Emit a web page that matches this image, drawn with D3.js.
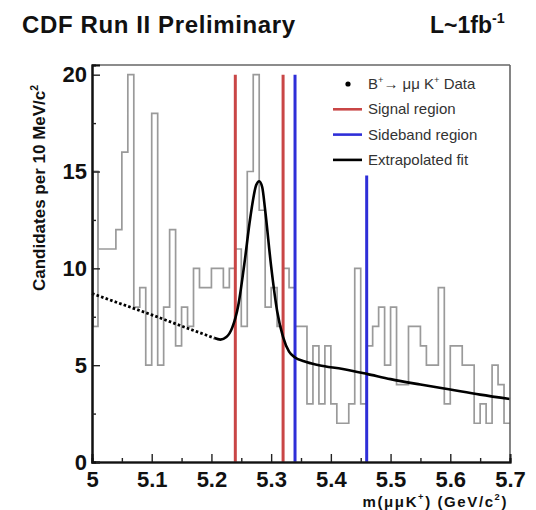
<!DOCTYPE html>
<html><head><meta charset="utf-8">
<script src="https://cdn.jsdelivr.net/npm/d3@7"></script>
<style>
body{margin:0;background:#fff}
svg{display:block}
text{font-family:"Liberation Sans",Arial,Helvetica,sans-serif}
</style>
</head><body>
<svg id="c" width="536" height="510"></svg>
<script>
// ---------------- data ----------------
const binLow = 5.0;
const binWidth = 0.01;
// candidates per 10 MeV bin, 5.00 .. 5.70 GeV
const counts = [15,11,11,11,12,16,20,8,9,5,
                18,5,8,12,6,8,7,10,9,9,
                10,10,9,10,11,7,15,20,13,8,
                9,7,10,9,7,7,3,6,3,6,
                3,2,2,3,10,3,6,7,8,5,
                8,4,4,7,7,6,5,5,9,3,
                6,6,5,5,2,3,2,5,4,2];
const firstBinFloor = 7;

const fitMass  = [5.000,5.050,5.100,5.150,5.205,5.215,5.225,5.235,5.245,5.255,5.265,5.275,5.280,5.285,5.290,5.300,5.310,5.320,5.330,5.340,5.355,5.380,5.420,5.460,5.500,5.550,5.600,5.650,5.700];
const fitValue = [8.70,8.15,7.60,7.02,6.40,6.32,6.45,6.95,8.10,10.20,12.60,14.30,14.50,14.20,13.00,10.10,7.80,6.45,5.70,5.40,5.20,5.00,4.80,4.55,4.28,4.00,3.74,3.48,3.25];
const fitDottedEnd = 5.205;

const regionMass = [5.24, 5.32, 5.34, 5.46];
const regionTop  = [20, 20, 20, 14.8];
const regionKind = ["signal","signal","sideband","sideband"];

const xTicks = [5.0,5.1,5.2,5.3,5.4,5.5,5.6,5.7];
const xTickLabels = ["5","5.1","5.2","5.3","5.4","5.5","5.6","5.7"];
const xMinorTicks = [5.05,5.15,5.25,5.35,5.45,5.55,5.65];
const yTicks = [0,5,10,15,20];
const yTickLabels = ["0","5","10","15","20"];
const yMinorTicks = [2.5,7.5,12.5,17.5];

const legendLabels = [
  [["B",0],["+",1],["\u2192 \u03bc\u03bc K",0],["+",1],[" Data",0]],
  [["Signal region",0]],
  [["Sideband region",0]],
  [["Extrapolated fit",0]]
];
const legendKind = ["data","signal","sideband","fit"];

const colors = {signal:"#c94646", sideband:"#2e2ed8", fit:"#000", data:"#000", hist:"#9a9a9a"};

// ---------------- drawing ----------------
const svg = d3.select("#c");
svg.append("rect").attr("width",536).attr("height",510).attr("fill","#fff");

const x = d3.scaleLinear().domain([5.0,5.7]).range([92,510]);
const y = d3.scaleLinear().domain([0,20.5]).range([462,65]);

function rich(t, parts, F){
  parts.forEach(([s,sup],i)=>{
    const ts = t.append("tspan").text(s);
    if(sup){ ts.attr("dy", -0.42*F).attr("font-size", 0.62*F); }
    else if(i>0 && parts[i-1][1]) ts.attr("dy", 0.42*F);
  });
}

// histogram
const edges = counts.map((c,i)=>binLow + i*binWidth);
const stepPts = counts.map((c,i)=>[edges[i], c]);
stepPts.push([binLow + counts.length*binWidth, counts[counts.length-1]]);
const step = d3.line().x(d=>x(d[0])).y(d=>y(d[1])).curve(d3.curveStepAfter);
svg.append("path").attr("d", step(stepPts)).attr("fill","none")
  .attr("stroke",colors.hist).attr("stroke-width",1.7);
svg.append("rect").attr("x", x(edges[0])+1).attr("y", y(counts[0]))
  .attr("width", x(edges[0]+binWidth)-x(edges[0])-1).attr("height", y(firstBinFloor)-y(counts[0]))
  .attr("fill","none").attr("stroke",colors.hist).attr("stroke-width",1.7);

// region lines
regionMass.forEach((m,i)=>{
  svg.append("line").attr("x1",x(m)).attr("x2",x(m)).attr("y1",y(0)).attr("y2",y(regionTop[i]))
    .attr("stroke",colors[regionKind[i]]).attr("stroke-width",3);
});

// fit
const fitPts = fitMass.map((m,i)=>[m,fitValue[i]]);
const fitLine = d3.line().x(d=>x(d[0])).y(d=>y(d[1])).curve(d3.curveMonotoneX);
svg.append("path").attr("d", fitLine(fitPts.filter(d=>d[0]<=fitDottedEnd)))
  .attr("fill","none").attr("stroke",colors.fit).attr("stroke-width",2.8)
  .attr("stroke-dasharray","2.6 2.2");
svg.append("path").attr("d", fitLine(fitPts.filter(d=>d[0]>=fitDottedEnd)))
  .attr("fill","none").attr("stroke",colors.fit).attr("stroke-width",2.6);

// frame
svg.append("line").attr("x1",x(5.0)).attr("x2",x(5.7)).attr("y1",65).attr("y2",65)
  .attr("stroke","#666").attr("stroke-width",1.4);
svg.append("line").attr("x1",x(5.7)).attr("x2",x(5.7)).attr("y1",65).attr("y2",y(0))
  .attr("stroke","#666").attr("stroke-width",1.6);

// axes
const gx = svg.append("g").attr("transform",`translate(0,${y(0)})`)
  .call(d3.axisBottom(x).tickValues(xTicks).tickSize(-8).tickPadding(9)
    .tickFormat((d,i)=>xTickLabels[i]));
const gxm = svg.append("g").attr("transform",`translate(0,${y(0)})`)
  .call(d3.axisBottom(x).tickValues(xMinorTicks).tickSize(-4).tickFormat(""));
const gy = svg.append("g").attr("transform",`translate(${x(5.0)},0)`)
  .call(d3.axisLeft(y).tickValues(yTicks).tickSize(-8).tickPadding(5)
    .tickFormat((d,i)=>yTickLabels[i]));
const gym = svg.append("g").attr("transform",`translate(${x(5.0)},0)`)
  .call(d3.axisLeft(y).tickValues(yMinorTicks).tickSize(-4).tickFormat(""));
[gx,gxm,gy,gym].forEach(g=>{
  g.select(".domain").attr("stroke","#111").attr("stroke-width",2);
  g.selectAll(".tick line").attr("stroke","#222").attr("stroke-width",1.4);
  g.selectAll(".tick text").attr("fill","#111").attr("font-size",22).attr("font-weight","bold")
    .attr("font-family","'Liberation Sans',Arial,Helvetica,sans-serif");
});
gx.select(".domain").attr("stroke","#444");

// titles
svg.append("text").attr("x",22).attr("y",33).attr("font-size",24).attr("font-weight","bold")
  .attr("fill","#111").attr("textLength",273).attr("lengthAdjust","spacing")
  .text("CDF Run II Preliminary");
const lt = svg.append("text").attr("x",430).attr("y",33).attr("font-size",23).attr("font-weight","bold").attr("fill","#111");
rich(lt, [["L~1fb",0],["-1",1]], 23);

// y axis title
const yt = svg.append("text").attr("transform","translate(45,291) rotate(-90)")
  .attr("font-size",17).attr("font-weight","bold").attr("fill","#111");
rich(yt, [["Candidates per 10 MeV/c",0],["2",1]], 17);

// x axis title
const xt = svg.append("text").attr("x",508).attr("y",506.5).attr("text-anchor","end")
  .attr("font-size",15).attr("font-weight","bold").attr("fill","#111")
  .attr("letter-spacing",1.6);
rich(xt, [["m(\u03bc\u03bcK",0],["+",1],[") (GeV/c",0],["2",1],[")",0]], 15);

// legend
const legY0 = 84, legDy = 25.3;
legendKind.forEach((k,i)=>{
  const cy = legY0 + i*legDy;
  if(k==="data"){
    svg.append("circle").attr("cx",348).attr("cy",cy).attr("r",2.6).attr("fill",colors.data);
  } else {
    svg.append("line").attr("x1",333).attr("x2",362).attr("y1",cy).attr("y2",cy)
      .attr("stroke",colors[k]).attr("stroke-width",2.6);
  }
  const t = svg.append("text").attr("x",368).attr("y",cy+5).attr("font-size",15).attr("fill","#333");
  rich(t, legendLabels[i], 15);
});
</script>
</body></html>
